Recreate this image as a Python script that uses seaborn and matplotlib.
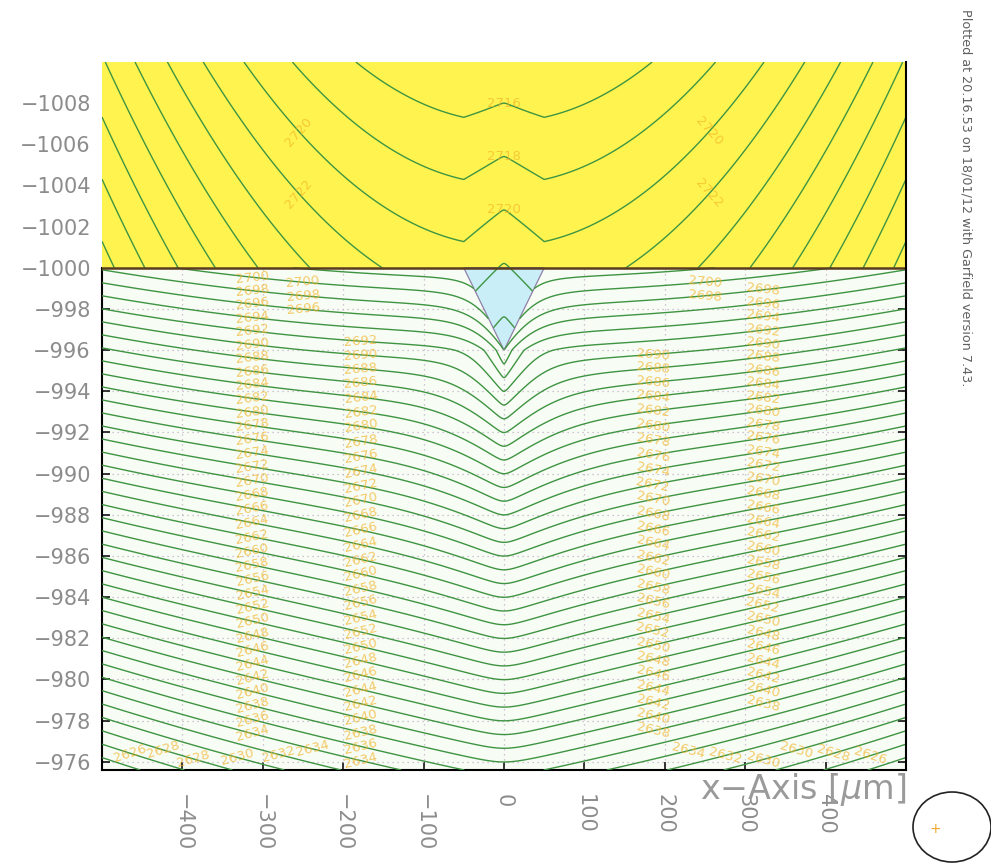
import numpy as np
import matplotlib
matplotlib.use("Agg")
import matplotlib.pyplot as plt
import seaborn as sns
from matplotlib.patches import Polygon, Ellipse

# ---------------- data ----------------
x_limits = [-500.0, 500.0]
y_limits = [-975.6, -1010.0]          # inverted: -1010 at the top
interface_y = -1000.0
tip_corners_x = [-50.0, 50.0]
tip_apex = [0.0, -996.0]

x_ticks = [-400, -300, -200, -100, 0, 100, 200, 300, 400]
y_ticks = list(range(-1008, -975, 2))

# upper (yellow) medium
upper_bowl_k = 11700.0
upper_first_line_y = -1007.1
upper_line_spacing = 3.02
upper_kink = [2.3, 0.17]
upper_first_value = 2716

# lower medium
lower_bowl = [1.7, 0.055]
lower_line_spacing = 0.667
lower_value_at_interface = 2703.4
dip_amplitude = 2.2
dip_width = [27.0, 11.2]
dip_rounding = 1.2
level_step = 2

lower_label_columns = [(-313, 0.3, 23.0), (-250, 0.5, 2.6), (-178, 3.0, 24.2),
                       (185, 4.2, 22.6), (322, 0.5, 21.8), (250, 0.5, 1.6)]
upper_label_columns = [(0, -9.5, -0.5), (-255, -9.3, -0.6), (255, -9.3, -0.6)]
bottom_label_x = [-465, -425, -385, -330, -280, -240, 230, 275, 320, 365, 410, 455]
bottom_label_y = -976.4

plot_note = "Plotted at 20.16.53 on 18/01/12 with Garfield version 7.43."
x_title = "x\u2212Axis [$\\mu$m]"

# ---------------- style ----------------
sns.set_theme(style="white")
plt.rcParams["font.family"] = ["DejaVu Sans"]
plt.rcParams["axes.unicode_minus"] = True

fig = plt.figure(figsize=(9.91, 8.64), dpi=100)
ax = fig.add_axes([102 / 991, 1 - 770 / 864, 804 / 991, 708 / 864])
ax.set_facecolor("#f7fcf5")

tip_depth = tip_apex[1] - interface_y


def tip_half(s):
    return tip_corners_x[1] * np.clip(1 - s / tip_depth, 0, 1)


xs = np.linspace(x_limits[0], x_limits[1], 1601)

# upper field (yellow layer + inside of the tip)
yu = np.linspace(y_limits[1], tip_apex[1], 900)
XU, YU = np.meshgrid(xs, yu)
SU = YU - interface_y
kink = (upper_kink[0] + upper_kink[1] * SU) * np.clip(
    1 - np.sqrt(XU ** 2 + 4) / tip_corners_x[1], 0, None)
FU = YU + XU ** 2 / upper_bowl_k + kink
VU = upper_first_value + level_step * (FU - upper_first_line_y) / upper_line_spacing
inside_u = (SU <= 0) | (np.abs(XU) <= tip_half(SU))
VU = np.ma.masked_where(~inside_u, VU)

# lower field
yl = np.linspace(interface_y, y_limits[0], 1000)
XL, YL = np.meshgrid(xs, yl)
SL = YL - interface_y
xe = tip_half(SL)
below = np.clip(SL - tip_depth, 0, None)
w = dip_width[0] + dip_width[1] * below
r = dip_rounding * below
d = np.clip(np.abs(XL) - xe, 0, None)
dist = np.sqrt(d ** 2 + r ** 2) - r
D = dip_amplitude * np.clip(SL / tip_depth, 0, 1) * np.exp(-dist / w)
H = (lower_bowl[0] + lower_bowl[1] * SL) * (XL / x_limits[1]) ** 2
FL = SL + H - D
VL = lower_value_at_interface - level_step * FL / lower_line_spacing
VL = np.ma.masked_where(np.abs(XL) < xe, VL)

levels_u = np.arange(2700, 2780, level_step)
levels_l = np.arange(2590, 2712, level_step)

# backgrounds
ax.axhspan(y_limits[1], interface_y, color="#fff44f", lw=0, zorder=3)
ax.add_patch(Polygon([(tip_corners_x[0], interface_y), (tip_corners_x[1], interface_y),
                      (tip_apex[0], tip_apex[1])], closed=True, fc="#c9eef7",
                     ec="#9080a8", lw=0.9, zorder=3.5))

line_col = "#3f9442"
cs_u = ax.contour(xs, yu, VU, levels=levels_u, colors=line_col, linewidths=1.0, zorder=4)
cs_l = ax.contour(xs, yl, VL, levels=levels_l, colors=line_col, linewidths=1.0, zorder=4)
ax.axhline(interface_y, color="#5a3d1e", lw=1.8, zorder=5)


def label_points(ygrid, V, levels, columns):
    pts = []
    for xc, s0, s1 in columns:
        j = int(np.argmin(np.abs(xs - xc)))
        col = np.ma.filled(V[:, j].astype(float), np.nan)
        for lev in levels:
            diff = col - lev
            idx = np.where(diff[:-1] * diff[1:] < 0)[0]
            for i in idx:
                t = diff[i] / (diff[i] - diff[i + 1])
                y = ygrid[i] + t * (ygrid[i + 1] - ygrid[i])
                if s0 <= y - interface_y <= s1:
                    pts.append((xs[j], y))
    return pts


lab_col = "#f2b52a"
pts_u = label_points(yu, VU, cs_u.levels, upper_label_columns)
pts_l = label_points(yl, VL, cs_l.levels, lower_label_columns)
pts_l += [(bx, bottom_label_y) for bx in bottom_label_x]
if pts_u:
    ax.clabel(cs_u, manual=pts_u, inline=False, fmt="%d", fontsize=9.5, colors=lab_col)
if pts_l:
    ax.clabel(cs_l, manual=pts_l, inline=False, fmt="%d", fontsize=9.5, colors=lab_col)
for t in ax.texts:
    t.set_alpha(0.7)
    t.set_zorder(4.5)

# axes, ticks, grid
ax.set_xlim(*x_limits)
ax.set_ylim(*y_limits)
ax.set_xticks(x_ticks)
ax.set_yticks(y_ticks)
ax.grid(True, ls=(0, (1, 3)), color="#c2b2c6", lw=0.9)
ax.tick_params(direction="in", length=6, width=1.1, color="black",
               labelcolor="#8c8c8c", labelsize=15, right=True, top=False,
               left=True, bottom=True)
ax.tick_params(axis="x", labelrotation=-90, pad=17)
ax.tick_params(axis="y", pad=8)
for side in ["left", "right", "bottom"]:
    ax.spines[side].set_color("black")
    ax.spines[side].set_linewidth(1.5)
ax.spines["top"].set_visible(False)
ax.spines["left"].set_bounds(interface_y, y_limits[0])
ax.spines["right"].set_zorder(6)

ax.text(1.0, -0.028, x_title, transform=ax.transAxes, ha="right", va="center",
        fontsize=24, color="#9a9a9a", zorder=10, clip_on=False)

fig.text(966 / 991, 1 - 9 / 864, plot_note, rotation=-90, ha="center", va="top",
         fontsize=9.2, color="#606060")
fig.add_artist(Ellipse((952 / 991, 1 - 827 / 864), 78 / 991, 70 / 864,
                       transform=fig.transFigure, fill=False, ec="#222222", lw=1.2))
fig.text(935 / 991, 1 - 829 / 864, "+", ha="center", va="center", color="#f0a830",
         fontsize=10)

fig.savefig("out.png", dpi=100)
